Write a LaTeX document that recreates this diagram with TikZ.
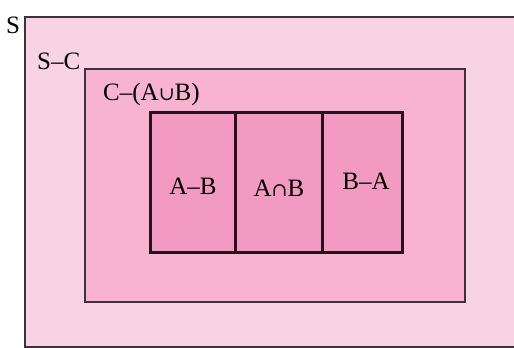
\documentclass[tikz,border=0pt]{standalone}
\usepackage{fontspec}
\setmainfont{Liberation Serif}
\newfontfamily\symfont{DejaVu Serif}
\definecolor{sfill}{HTML}{F8D3E4}
\definecolor{cfill}{HTML}{F7B3CF}
\definecolor{abfill}{HTML}{F29AC1}
\definecolor{frame}{HTML}{3E3139}
\definecolor{inkline}{HTML}{2A0F1C}
\tikzset{
  setlabel/.style={font=\fontsize{25}{27}\selectfont, text=black, inner sep=0pt},
  outerbox/.style={draw=frame, line width=2pt},
  innerbox/.style={draw=inkline, line width=3pt},
}
\begin{document}
\begin{tikzpicture}[x=1pt,y=-1pt]
\useasboundingbox (0,0) rectangle (514,348);
\fill[white] (0,0) rectangle (514,348);
\clip (0,0) rectangle (514,348);
% universal set S
\path[outerbox, fill=sfill] (25,17) rectangle (530,347);
% set C
\path[outerbox, fill=cfill] (85,69) rectangle (465,302);
% A and B split into three regions
\path[innerbox, fill=abfill] (150,112) rectangle (402,252);
\draw[innerbox] (235,112) -- (235,252);
\draw[innerbox] (322,112) -- (322,252);
% labels
\node[setlabel, anchor=base west] (s) at (6,33) {S};
\node[setlabel, anchor=base west] (sc) at (37,69) {S–C};
\node[setlabel, anchor=base west] (cab) at (103,100) {C–(A{\fontsize{19}{21}\symfont ∪}B)};
\node[setlabel, anchor=base] (amb) at (193,194) {A–B};
\node[setlabel, anchor=base] (aib) at (279,196) {A{\fontsize{19}{21}\symfont ∩}B};
\node[setlabel, anchor=base] (bma) at (366,189) {B–A};
\end{tikzpicture}
\end{document}
